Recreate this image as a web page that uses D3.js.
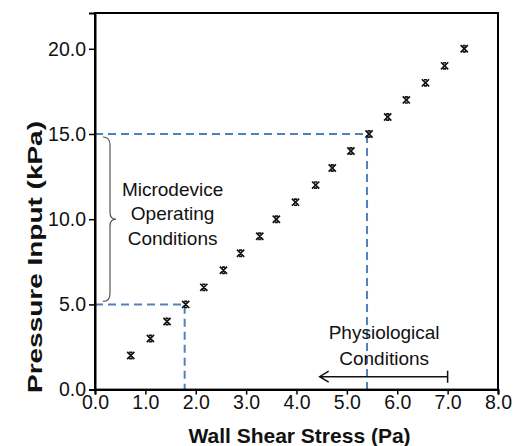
<html>
  <head>
    <script src="https://d3js.org/d3.v7.min.js"></script>
    <style>
      body { margin: 0; background: #fff; }
      text { font-family: Arial, "Liberation Sans", sans-serif; }
    </style>
  </head>
  <body>
    <svg width="519" height="446" id="chart"></svg>
  </body>
  <script type="text/javascript">
    // wall shear stress (Pa), one per pressure step
    var shearStress = [0.71, 1.10, 1.43, 1.80, 2.16, 2.55, 2.89, 3.27, 3.60, 3.98,
                       4.38, 4.71, 5.08, 5.44, 5.81, 6.18, 6.56, 6.94, 7.33];
    var pressure = [2, 3, 4, 5, 6, 7, 8, 9, 10, 11, 12, 13, 14, 15, 16, 17, 18, 19, 20];
    var xTicks = [0, 1, 2, 3, 4, 5, 6, 7, 8];
    var yTicks = [0, 5, 10, 15, 20];
    // operating window (kPa) and where it meets the curve (Pa)
    var operatingPressure = [5, 15];
    var operatingShear = [1.78, 5.4];
    // physiological range arrow, from 7.0 Pa down toward lower stress
    var physioRange = [7.0, 4.46];

    var plotLeft = 95, plotRight = 498, plotTop = 13, plotBottom = 389.6;

    var x = d3.scaleLinear().domain([0, 8]).range([plotLeft, plotRight]);
    var y = d3.scaleLinear().domain([0, 22.1]).range([plotBottom, plotTop]);

    var svg = d3.select("#chart");
    var blue = "#4f81bd";

    // dashed guide lines
    operatingPressure.forEach(function(p, i){
        var sx = operatingShear[i];
        svg.append("path")
            .attr("d", "M" + x(0) + "," + y(p) + "H" + x(sx) + "V" + y(0))
            .attr("fill", "none")
            .attr("stroke", blue)
            .attr("stroke-width", 2)
            .attr("stroke-dasharray", "8,5");
    });

    // frame
    svg.append("rect")
        .attr("x", plotLeft).attr("y", plotTop)
        .attr("width", plotRight - plotLeft).attr("height", plotBottom - plotTop)
        .attr("fill", "none").attr("stroke", "#000").attr("stroke-width", 2);

    var xAxis = svg.append("g")
        .attr("transform", "translate(0," + plotBottom + ")")
        .call(d3.axisBottom(x).tickValues(xTicks).tickSize(5).tickPadding(1)
              .tickFormat(d3.format(".1f")));
    var yAxis = svg.append("g")
        .attr("transform", "translate(" + plotLeft + ",0)")
        .call(d3.axisLeft(y).tickValues(yTicks).tickSize(6).tickPadding(3)
              .tickFormat(d3.format(".1f")));
    [xAxis, yAxis].forEach(function(g){
        g.select(".domain").attr("stroke-width", 2);
        g.selectAll(".tick line").attr("stroke-width", 1.5);
        g.selectAll("text").attr("font-size", 19.5).attr("fill", "#111")
            .attr("font-family", "Arial, 'Liberation Sans', sans-serif");
    });

    // star markers (x with short caps)
    var pts = svg.append("g");
    shearStress.forEach(function(s, i){
        var cx = x(s), cy = y(pressure[i]), r = 3.6;
        pts.append("path")
            .attr("d", "M" + (cx - r) + "," + (cy - r) + "L" + (cx + r) + "," + (cy + r) +
                       "M" + (cx + r) + "," + (cy - r) + "L" + (cx - r) + "," + (cy + r) +
                       "M" + (cx - 1.5) + "," + (cy - r + 0.5) + "H" + (cx + 1.5) +
                       "M" + (cx - 1.5) + "," + (cy + r - 0.5) + "H" + (cx + 1.5))
            .attr("stroke", "#111")
            .attr("stroke-width", 1.7)
            .attr("fill", "none");
    });

    // brace for the microdevice range
    var bt = y(operatingPressure[1]) + 3, bb = y(operatingPressure[0]) - 3,
        bm = (bt + bb) / 2, bx = plotLeft + 8;
    svg.append("path")
        .attr("d", "M" + bx + "," + bt +
                   "Q" + (bx + 7) + "," + bt + " " + (bx + 7) + "," + (bt + 8) +
                   "V" + (bm - 7) +
                   "Q" + (bx + 7) + "," + bm + " " + (bx + 13) + "," + bm +
                   "Q" + (bx + 7) + "," + bm + " " + (bx + 7) + "," + (bm + 7) +
                   "V" + (bb - 8) +
                   "Q" + (bx + 7) + "," + bb + " " + bx + "," + bb)
        .attr("fill", "none")
        .attr("stroke", "#555")
        .attr("stroke-width", 1.2);

    var micro = ["Microdevice", "Operating", "Conditions"];
    svg.selectAll(".micro").data(micro).enter().append("text")
        .attr("x", x(1.54))
        .attr("y", function(d, i){ return y(10) + 1 + (i - 1) * 24.5; })
        .attr("text-anchor", "middle")
        .attr("font-size", 19)
        .attr("fill", "#111")
        .text(function(d){ return d; });

    var physio = ["Physiological", "Conditions"];
    svg.selectAll(".physio").data(physio).enter().append("text")
        .attr("x", x(5.74))
        .attr("y", function(d, i){ return 339 + i * 26; })
        .attr("text-anchor", "middle")
        .attr("font-size", 19)
        .attr("fill", "#111")
        .text(function(d){ return d; });

    // physiological arrow
    var ay = y(0.76);
    svg.append("path")
        .attr("d", "M" + x(physioRange[0]) + "," + ay + "H" + x(physioRange[1]) +
                   "M" + (x(physioRange[1]) + 9) + "," + (ay - 5.5) + "L" + x(physioRange[1]) + "," + ay +
                   "L" + (x(physioRange[1]) + 9) + "," + (ay + 5.5) +
                   "M" + x(physioRange[0]) + "," + (ay - 6) + "V" + (ay + 6))
        .attr("fill", "none")
        .attr("stroke", "#111")
        .attr("stroke-width", 1.5);

    // axis titles
    svg.append("text")
        .attr("x", (plotLeft + plotRight) / 2 + 3)
        .attr("y", 443)
        .attr("text-anchor", "middle")
        .attr("font-size", 21)
        .attr("font-weight", "bold")
        .attr("fill", "#111")
        .text("Wall Shear Stress (Pa)");

    svg.append("text")
        .attr("transform", "translate(42,257) rotate(-90)")
        .attr("text-anchor", "middle")
        .attr("font-size", 21)
        .attr("font-weight", "bold")
        .attr("fill", "#111")
        .attr("textLength", 272)
        .attr("lengthAdjust", "spacingAndGlyphs")
        .text("Pressure Input (kPa)");
  </script>
</html>
